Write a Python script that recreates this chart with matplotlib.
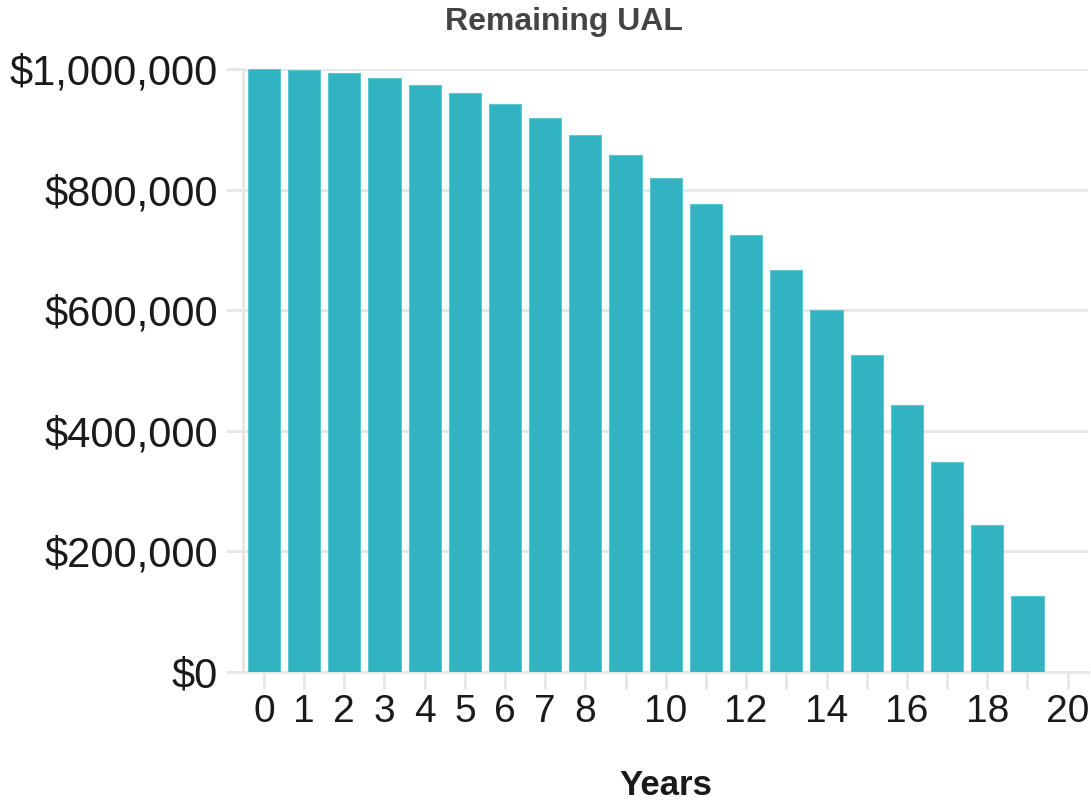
import matplotlib
matplotlib.use("Agg")
import matplotlib.pyplot as plt
from matplotlib.ticker import FuncFormatter, FixedLocator

years = list(range(20))
remaining_ual = [1000000, 998000, 993000, 985000, 973000, 960000, 942000, 919000,
                 890000, 857000, 819000, 776000, 725000, 667000, 600000, 526000,
                 443000, 349000, 244000, 126500]
x_ticks = list(range(21))
x_tick_labels = ["0", "1", "2", "3", "4", "5", "6", "7", "8", "", "10", "", "12", "",
                 "14", "", "16", "", "18", "", "20"]
y_ticks = [0, 200000, 400000, 600000, 800000, 1000000]

plt.rcParams['font.family'] = ['Liberation Sans', 'DejaVu Sans']

fig = plt.figure(figsize=(10.91, 8.0), dpi=100)
ax = fig.add_axes([0.2227, 0.16, 0.997 - 0.2227, 0.91375 - 0.16])

bar_color = "#31b3c2"
ax.bar(years, remaining_ual, width=0.8, color=bar_color, edgecolor="#5cc6d2",
       linewidth=0.8, zorder=3)

ax.set_xlim(-0.52, 20.5)
ax.set_ylim(0, 1000000)
ax.yaxis.set_major_locator(FixedLocator(y_ticks))
ax.yaxis.set_major_formatter(FuncFormatter(lambda v, p: "${:,.0f}".format(v)))
ax.set_xticks(x_ticks)
ax.set_xticklabels(x_tick_labels)

grid_c = "#e6e6e6"
ax.grid(axis='y', color=grid_c, linewidth=2, zorder=0)
for s in ['top', 'right']:
    ax.spines[s].set_visible(False)
for s in ['left', 'bottom']:
    ax.spines[s].set_color(grid_c)
    ax.spines[s].set_linewidth(2)

ax.tick_params(axis='y', length=12, width=2, color=grid_c, pad=6,
               labelsize=30, labelcolor="#1a1a1a")
ax.tick_params(axis='x', length=12, width=2, color=grid_c, pad=4,
               labelsize=28, labelcolor="#1a1a1a")

fig.text(564 / 1091, 1 - 22 / 800, "Remaining UAL", fontsize=23, fontweight='bold',
         color="#444444", ha='center', va='center')
ax.set_xlabel("Years", fontsize=25, fontweight='bold', color="#1a1a1a", labelpad=28)

fig.savefig("out.png", dpi=100)
